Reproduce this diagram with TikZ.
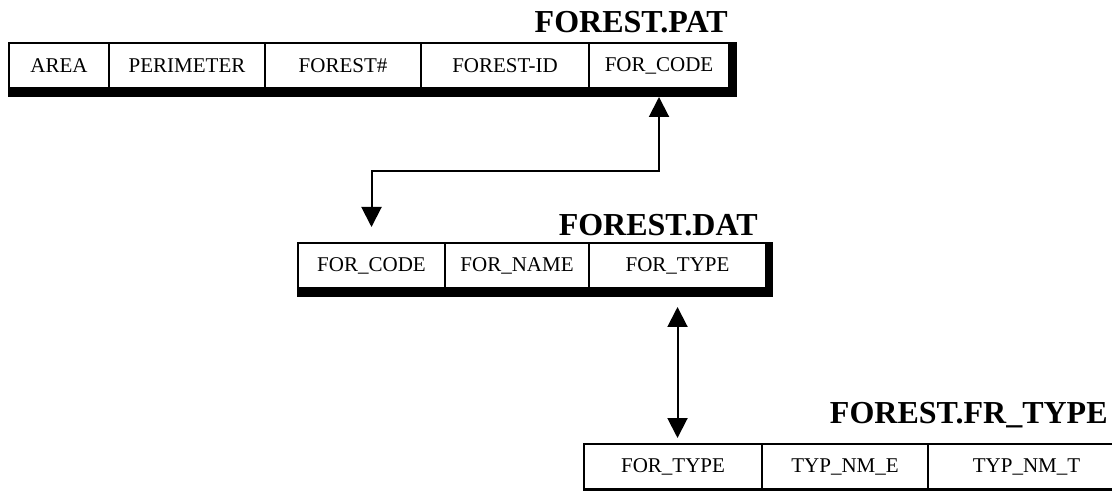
\documentclass[tikz,border=0pt]{standalone}
\usepackage{fontspec}
\setmainfont{Liberation Serif}
\usetikzlibrary{arrows.meta, calc}

\tikzset{
  cell/.style={draw, line width=1pt, fill=white, inner sep=0pt, minimum height=22.5pt,
    anchor=north west, font=\fontsize{10.5}{12}\selectfont},
  title/.style={anchor=base east, inner sep=0pt, font=\fontsize{16}{18}\selectfont\bfseries},
  link/.style={line width=1pt, {Triangle[width=10pt,length=10pt]}-{Triangle[width=10pt,length=10pt]}}
}

\begin{document}
\begin{tikzpicture}[x=0.5pt,y=-0.5pt]
    \useasboundingbox (0,0) rectangle (1112,491);

    % FOREST.PAT
    \foreach \nm/\xa/\xb/\txt in {pat1/8/108/AREA, pat2/108/264/PERIMETER, pat3/264/420/FOREST\#,
        pat4/420/588/FOREST-ID, pat5/588/728/FOR\_CODE}
    \node[cell, minimum width={(\xb-\xa)*0.5pt}] (\nm) at (\xa,42) {\txt};
    \fill (pat1.south west) rectangle ($(pat5.south east)+(7,8)$);
    \fill (pat5.north east) rectangle ($(pat5.south east)+(7,0)$);
    \node[title] (patname) at (728,33) {FOREST.PAT};

    % FOREST.DAT
    \foreach \nm/\xa/\xb/\txt in {dat1/297/444/FOR\_CODE, dat2/444/588/FOR\_NAME, dat3/588/765/FOR\_TYPE}
    \node[cell, minimum width={(\xb-\xa)*0.5pt}] (\nm) at (\xa,242) {\txt};
    \fill (dat1.south west) rectangle ($(dat3.south east)+(6,8)$);
    \fill (dat3.north east) rectangle ($(dat3.south east)+(6,0)$);
    \node[title] (datname) at (758,236) {FOREST.DAT};

    % FOREST.FR_TYPE
    \foreach \nm/\xa/\xb/\txt in {typ1/583/761/FOR\_TYPE, typ2/761/927/TYP\_NM\_E, typ3/927/1124/TYP\_NM\_T}
    \node[cell, minimum width={(\xb-\xa)*0.5pt}] (\nm) at (\xa,443) {\txt};
    \fill (typ1.south west) rectangle ($(typ3.south east)+(0,4)$);
    \node[title] (typname) at (1108,423) {FOREST.FR\_TYPE};

    % links
    \coordinate (bend) at (0,171);
    \coordinate (codeup) at ($(pat5.south)+(0,8)$);
    \coordinate (codedown) at ($(dat1.north)+(0,-15)$);
    \coordinate (typeup) at ($(dat3.south)+(0,18)$);
    \coordinate (typedown) at ($(typ1.north -| dat3.south)+(0,-5)$);
    \draw[link] (codeup) -- (codeup |- bend) -| (codedown);
    \draw[link] (typeup) -- (typedown);

\end{tikzpicture}
\end{document}
